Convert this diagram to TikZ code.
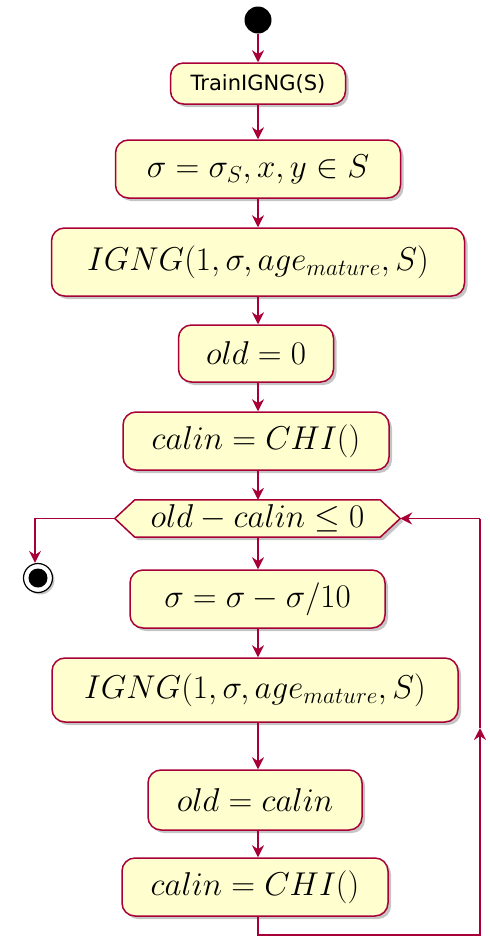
\RequirePackage{fix-cm}
\documentclass[tikz,border=0pt]{standalone}
\usepackage{fontspec}
\usetikzlibrary{arrows.meta,shadows}
\definecolor{umlred}{HTML}{A80036}
\definecolor{umlfill}{HTML}{FEFECE}
\begin{document}
\begin{tikzpicture}[x=1pt,y=-1pt,
  act/.style={draw=umlred, fill=umlfill, line width=1.5pt, rounded corners=13pt,
    drop shadow={shadow xshift=3pt, shadow yshift=-3pt, fill=black!50, opacity=0.45},
    inner sep=0pt, font=\fontsize{33}{38}\selectfont},
  conn/.style={draw=umlred, line width=1.6pt, -{Stealth[length=12pt,width=12pt,inset=4pt]}},
  line/.style={draw=umlred, line width=1.6pt}]
\useasboundingbox (0,0) rectangle (490,938);
\fill[white] (0,0) rectangle (490,938);
% start
\node[circle, fill=black, minimum size=27pt, inner sep=0pt] (start) at (258,20) {};
% actions
\node[act, minimum width=175pt, minimum height=41pt, font=\fontsize{21}{24}\selectfont\fontspec{DejaVu Sans}] (a1) at (258,83.5) {TrainIGNG(S)};
\node[act, minimum width=285pt, minimum height=58pt] (a2) at (258,169) {$\sigma = \sigma_S, x, y \in S$};
\node[act, minimum width=413pt, minimum height=68pt] (a3) at (258,262) {$IGNG(1,\sigma,age_{mature},S)$};
\node[act, minimum width=155pt, minimum height=57pt] (a4) at (256,353.5) {$old = 0$};
\node[act, minimum width=266pt, minimum height=58pt] (a5) at (256,441) {$calin = CHI()$};
% decision
\node[inner sep=0pt, minimum width=245pt, minimum height=37pt] (dec) at (257.5,518.5) {};
\coordinate (decL) at ([xshift=-20pt]dec.west);
\coordinate (decR) at ([xshift=20pt]dec.east);
\filldraw[draw=umlred, fill=umlfill, line width=1.5pt,
    drop shadow={shadow xshift=3pt, shadow yshift=-3pt, fill=black!50, opacity=0.45}]
  (decL) -- (dec.north west) -- (dec.north east) -- (decR) -- (dec.south east) -- (dec.south west) -- cycle;
\node[font=\fontsize{33}{38}\selectfont] at (dec) {$old - calin \leq 0$};
\node[act, minimum width=255pt, minimum height=58pt] (a6) at (257.5,599) {$\sigma = \sigma - \sigma/10$};
\node[act, minimum width=406pt, minimum height=64pt] (a7) at (255,690) {$IGNG(1,\sigma,age_{mature},S)$};
\node[act, minimum width=214pt, minimum height=60pt] (a8) at (255,800) {$old = calin$};
\node[act, minimum width=266pt, minimum height=58pt] (a9) at (255,887) {$calin = CHI()$};
% end
\node[circle, draw=black, fill=white, line width=1.2pt, minimum size=29pt, inner sep=0pt,
  drop shadow={shadow xshift=2pt, shadow yshift=-2pt, fill=black!50, opacity=0.45}] (end) at (38,578) {};
\node[circle, fill=black, minimum size=19pt, inner sep=0pt] at (end) {};
% connectors
\draw[conn] (start) -- (a1.north -| start);
\draw[conn] (a1.south -| start) -- (a2.north -| start);
\draw[conn] (a2.south -| start) -- (a3.north -| start);
\draw[conn] (a3.south -| start) -- (a4.north -| start);
\draw[conn] (a4.south -| start) -- (a5.north -| start);
\draw[conn] (a5.south -| start) -- (dec.north -| start);
\draw[conn] (dec.south -| start) -- (a6.north -| start);
\draw[conn] (a6.south -| start) -- (a7.north -| start);
\draw[conn] (a7.south -| start) -- (a8.north -| start);
\draw[conn] (a8.south -| start) -- (a9.north -| start);
\coordinate (lc) at (35,518.5);
\draw[conn] (decL) -- (lc) -- (end.north -| lc);
\coordinate (b1) at (258,935);
\coordinate (b2) at (480,935);
\coordinate (bm) at (480,728);
\coordinate (b3) at (480,518.5);
\draw[conn] (a9.south -| start) -- (b1) -- (b2) -- (bm);
\draw[line] (bm) -- (b3);
\draw[conn] (b3) -- (decR);
\end{tikzpicture}
\end{document}
